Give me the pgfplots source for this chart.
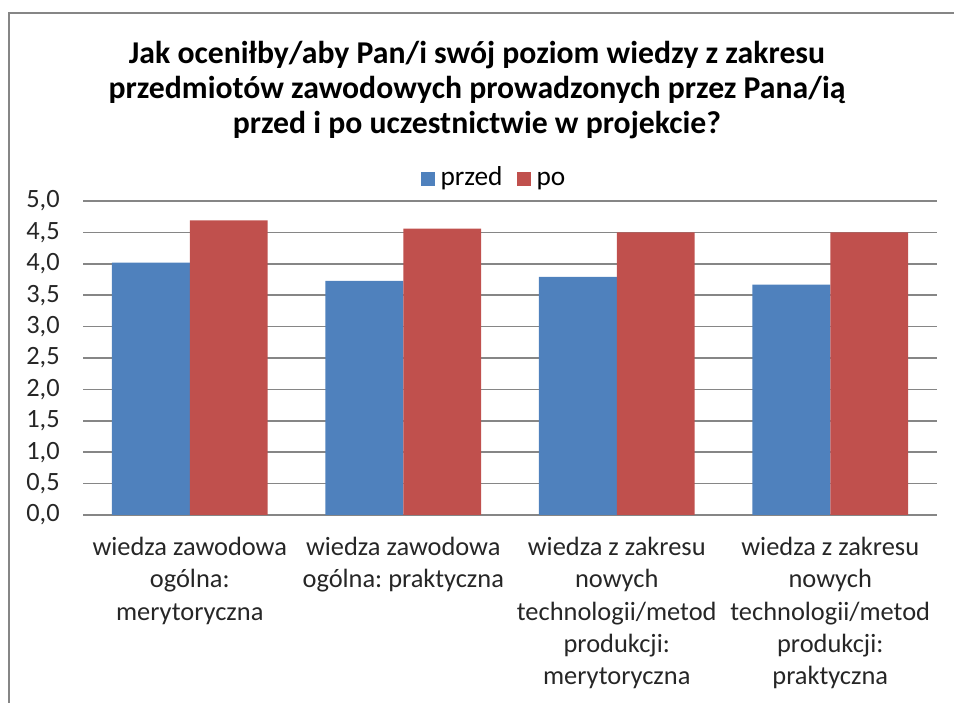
\documentclass[border=0pt]{standalone}
\usepackage{fontspec}
\setmainfont{Carlito}
\usepackage{pgfplots}
\pgfplotsset{compat=1.18}
\definecolor{przed}{HTML}{4F81BD}
\definecolor{po}{HTML}{C0504D}
\definecolor{ramka}{HTML}{868686}
\frenchspacing

\begin{document}
\begin{tikzpicture}
  % picture is 954x703 px at 0.75pt per px
  \useasboundingbox (0pt,0pt) rectangle (715.5pt,527.25pt);
  \draw[ramka, line width=1.2pt] (6.75pt,-5pt) -- (6.75pt,517.5pt) -- (720pt,517.5pt);
  \node[align=center, font=\bfseries\fontsize{23.8}{26.25}\selectfont] at (357.75pt,459.75pt)
    {Jak oceniłby/aby Pan/i swój poziom wiedzy z zakresu\\
     przedmiotów zawodowych prowadzonych przez Pana/ią\\
     przed i po uczestnictwie w projekcie?};
  \begin{axis}[
      at={(62.25pt,141pt)}, anchor=south west,
      scale only axis, width=640.5pt, height=235.5pt,
      ybar=0pt, bar width=0.365,
      xmin=-0.5, xmax=3.5, ymin=0, ymax=5,
      xtick={0,1,2,3},
      xticklabels={wiedza zawodowa\\ogólna:\\merytoryczna,
                   wiedza zawodowa\\ogólna: praktyczna,
                   wiedza z zakresu\\nowych\\technologii/metod\\produkcji:\\merytoryczna,
                   wiedza z zakresu\\nowych\\technologii/metod\\produkcji:\\praktyczna},
      ytick={0,0.5,...,5},
      major tick length=0pt,
      axis line style={draw=none},
      ymajorgrids, grid style={ramka, line width=1.3pt},
      tick label style={font=\fontsize{19.8}{24.3}\selectfont, text=black!85},
      xticklabel style={align=center, anchor=north, yshift=-13pt},
      yticklabel style={xshift=-14pt},
      /pgf/number format/.cd, use comma, fixed, fixed zerofill, precision=1, assume math mode=true,
      /pgfplots/.cd,
      legend style={draw=none, fill=none, legend columns=-1, at={(0.482,1.064)}, anchor=center,
        font=\fontsize{20.5}{24}\selectfont,
        nodes={text height=1.5ex, text depth=0.4ex},
        /tikz/every odd column/.append style={column sep=2pt},
        /tikz/every even column/.append style={column sep=9pt}},
      legend image code/.code={\fill[#1] (0pt,-3pt) rectangle (10.5pt,7.5pt);},
    ]
    \addplot[fill=przed, draw=none, bar shift=-0.1825] coordinates {(0,4.02) (1,3.73) (2,3.79) (3,3.67)};
    \addplot[fill=po, draw=none, bar shift=0.1825] coordinates {(0,4.69) (1,4.56) (2,4.50) (3,4.50)};
    \legend{przed, po}
  \end{axis}
\end{tikzpicture}
\end{document}
